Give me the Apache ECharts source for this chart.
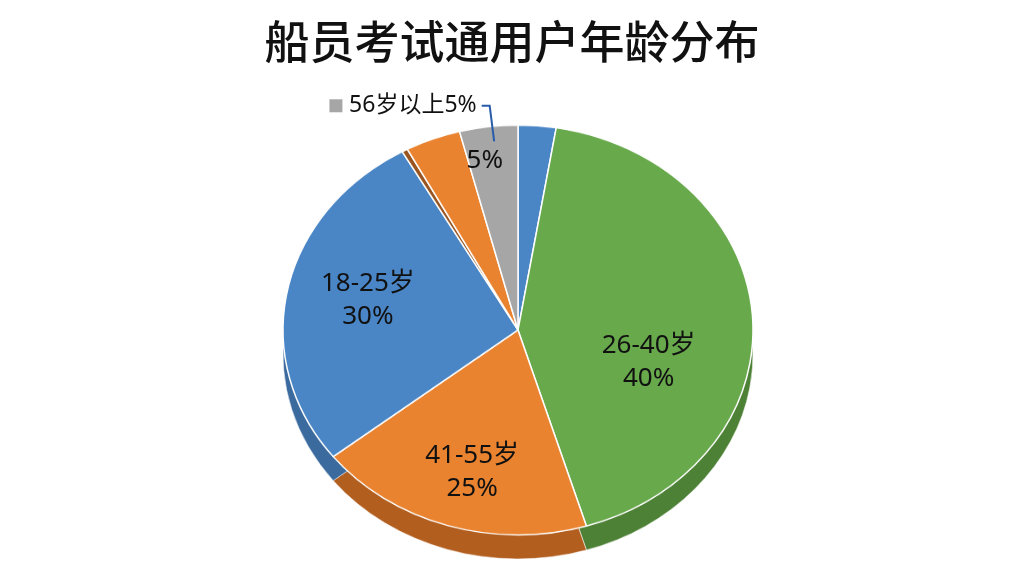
<!DOCTYPE html>
<html><head><meta charset="utf-8">
<script src="https://cdn.jsdelivr.net/npm/echarts@6/dist/echarts.min.js"></script>
<style>
html,body{margin:0;padding:0;background:#fff;width:1024px;height:576px;overflow:hidden}
#pie{position:absolute;left:0;top:0;width:1024px;height:660.55px;transform:scaleY(0.872);transform-origin:0 0}
#top{position:absolute;left:0;top:0;width:1024px;height:576px}
</style></head><body>
<div id="pie"></div><div id="top"></div>
<script>
// ---- data ----
const titleText = '船员考试通用户年龄分布';
const sliceNames = ['18-25岁(小块)', '26-40岁', '41-55岁', '18-25岁', '41-55岁(侧缘)', '41-55岁(小块)', '56岁以上'];
const sliceValues = [2.6, 42.7, 19.1, 27.4, 0.4, 3.8, 4.0];
const labelNames = ['', '26-40岁', '41-55岁', '18-25岁', '', '', ''];
const labelPercents = ['', '40%', '25%', '30%', '', '', '5%'];
const calloutIndex = 6;
const calloutText = '56岁以上5%';

// ---- styles ----
const topColors = ['#4a86c6', '#67a94b', '#ea832f', '#4a86c6', '#9a5420', '#ea832f', '#a6a6a6'];
const sideColors = ['#3b6a9e', '#4d8136', '#b25e1f', '#3b6a9e', '#7a3f16', '#b25e1f', '#7f7f7f'];
const labelShift = [[0, 0], [-22, 42], [0, -4], [0, 0], [0, 0], [0, 0], [-14, -18]];
const SY = 0.872;
const CX = 518, CY = 330, R = 235, DEPTH = 24;
const FONT = 'Noto Sans, Noto Sans CJK SC, sans-serif';

// ---- pie body (vertically squashed for the tilted look) ----
const pieChart = echarts.init(document.getElementById('pie'), null, {renderer: 'canvas'});
pieChart.setOption({
  animation: false,
  backgroundColor: '#ffffff',
  series: [
    {
      type: 'pie', silent: true, z: 1,
      center: [CX, (CY + DEPTH) / SY], radius: [0, R],
      startAngle: 90, clockwise: true,
      label: {show: false}, labelLine: {show: false},
      itemStyle: {borderColor: 'rgba(255,255,255,0.55)', borderWidth: 1},
      data: sliceValues.map((v, i) => ({value: v, name: sliceNames[i], itemStyle: {color: sideColors[i]}}))
    },
    {
      type: 'pie', silent: true, z: 2,
      center: [CX, CY / SY], radius: [0, R],
      startAngle: 90, clockwise: true,
      label: {show: false}, labelLine: {show: false},
      itemStyle: {borderColor: '#ffffff', borderWidth: 1.5},
      data: sliceValues.map((v, i) => ({value: v, name: sliceNames[i], itemStyle: {color: topColors[i]}}))
    }
  ]
});

// ---- title and labels (unsquashed) ----
const topChart = echarts.init(document.getElementById('top'), null, {renderer: 'canvas'});
topChart.setOption({
  animation: false,
  backgroundColor: 'rgba(0,0,0,0)',
  title: {
    text: titleText, left: 'center', top: 14,
    textStyle: {fontSize: 45, fontWeight: 500, color: '#111', fontFamily: 'Noto Sans CJK SC'}
  },
  series: [
    {
      type: 'pie', silent: true,
      center: [CX, CY], radius: [65, R],
      startAngle: 90, clockwise: true,
      avoidLabelOverlap: false,
      itemStyle: {color: 'rgba(0,0,0,0)', borderWidth: 0},
      label: {
        show: true, position: 'inside',
        formatter: p => labelNames[p.dataIndex] ? labelNames[p.dataIndex] + '\n' + labelPercents[p.dataIndex] : labelPercents[p.dataIndex],
        fontSize: 26, lineHeight: 33, color: '#111', fontFamily: FONT
      },
      labelLine: {show: false},
      data: sliceValues.map((v, i) => ({value: v, name: sliceNames[i], label: {offset: labelShift[i]}}))
    },
    {
      type: 'pie', silent: true,
      center: [CX, CY], radius: [0, 190],
      startAngle: 90, clockwise: true,
      avoidLabelOverlap: false,
      itemStyle: {color: 'rgba(0,0,0,0)', borderWidth: 0},
      label: {
        position: 'outside',
        formatter: () => '{sq|}  {t|' + calloutText + '}',
        rich: {
          sq: {width: 13, height: 13, backgroundColor: '#a6a6a6'},
          t: {fontSize: 23, color: '#111', fontFamily: FONT}
        }
      },
      labelLine: {length: 36, length2: 8, smooth: false, lineStyle: {color: '#2a5caa', width: 2}},
      data: sliceValues.map((v, i) => ({
        value: v, name: sliceNames[i],
        label: {show: i === calloutIndex},
        labelLine: {show: i === calloutIndex}
      }))
    }
  ]
});
</script>
</body></html>
